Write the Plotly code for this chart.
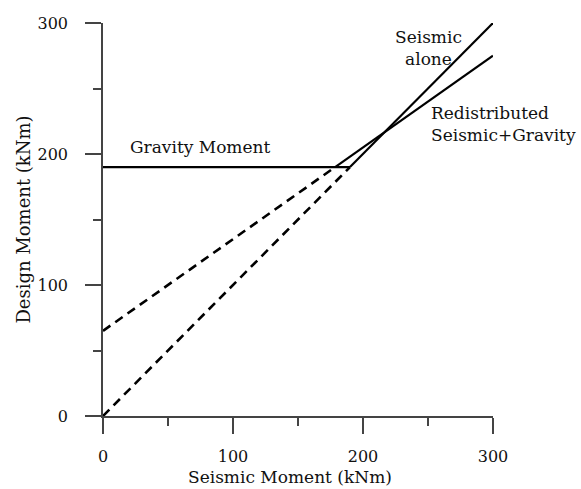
import plotly.graph_objects as go

# Design moment vs. seismic moment (kNm)
gravity_moment = 190          # constant gravity design moment
redist_intercept = 65         # redistributed line at zero seismic moment
redist_slope = 0.7
x_max = 300

# Seismic alone: design moment equals seismic moment
seis_dash_x = [0, gravity_moment]
seis_dash_y = [0, gravity_moment]
seis_solid_x = [gravity_moment, x_max]
seis_solid_y = [gravity_moment, x_max]

# Redistributed seismic + gravity
x_meet = (gravity_moment - redist_intercept) / redist_slope
redist_dash_x = [0, x_meet]
redist_dash_y = [redist_intercept, gravity_moment]
redist_solid_x = [x_meet, x_max]
redist_solid_y = [gravity_moment, redist_intercept + redist_slope * x_max]

# Gravity moment plateau
grav_x = [0, gravity_moment]
grav_y = [gravity_moment, gravity_moment]

tick_vals = [0, 100, 200, 300]
tick_text = ["0", "100", "200", "300"]

FONT = "DejaVu Serif"
INK = "#111111"
AXIS = "#444444"

fig = go.Figure()

def line(x, y, dash="solid", width=2.2):
    fig.add_trace(go.Scatter(
        x=x, y=y, mode="lines", cliponaxis=False, showlegend=False,
        hoverinfo="skip",
        line=dict(color="black", width=width, dash=dash),
    ))

line(redist_dash_x, redist_dash_y, dash="9px,6px", width=2.6)
line(seis_dash_x, seis_dash_y, dash="9px,6px", width=2.6)
line(grav_x, grav_y)
line(seis_solid_x, seis_solid_y)
line(redist_solid_x, redist_solid_y)

axis_common = dict(
    range=[0, 300], tickvals=tick_vals, ticktext=tick_text,
    ticks="outside", ticklen=16, tickwidth=1.5, tickcolor=AXIS,
    showline=True, linecolor=AXIS, linewidth=1.5,
    showgrid=False, zeroline=False,
    minor=dict(dtick=50, tick0=0, ticks="outside", ticklen=8,
               tickwidth=1.5, tickcolor=AXIS, showgrid=False),
    tickfont=dict(family=FONT, size=16, color=INK),
)

fig.update_xaxes(**axis_common, ticklabelstandoff=9)
fig.update_yaxes(**axis_common, ticklabelstandoff=14,
                 title=dict(text="Design Moment (kNm)", standoff=2,
                            font=dict(family=FONT, size=18, color=INK)))

# x-axis title placed below the tick labels
fig.add_annotation(
    x=0.48, y=-0.155, xref="paper", yref="paper",
    text="Seismic Moment (kNm)", showarrow=False,
    xanchor="center", yanchor="middle", borderpad=0,
    font=dict(family=FONT, size=17, color=INK),
)

def label(text, x, y, xanchor="left", align="left"):
    fig.add_annotation(
        x=x, y=y, xref="x", yref="y", text=text, showarrow=False,
        xanchor=xanchor, yanchor="middle", align=align,
        font=dict(family=FONT, size=17, color=INK),
    )

label("Gravity Moment", 19, 205)
label("Seismic<br>alone", 250, 281, xanchor="center", align="center")
label("Redistributed<br>Seismic+Gravity", 250.5, 223)

fig.update_layout(
    width=581, height=489,
    margin=dict(l=103, r=88, t=23, b=73, autoexpand=False),
    paper_bgcolor="white", plot_bgcolor="white",
)

fig.write_html("out.html")
